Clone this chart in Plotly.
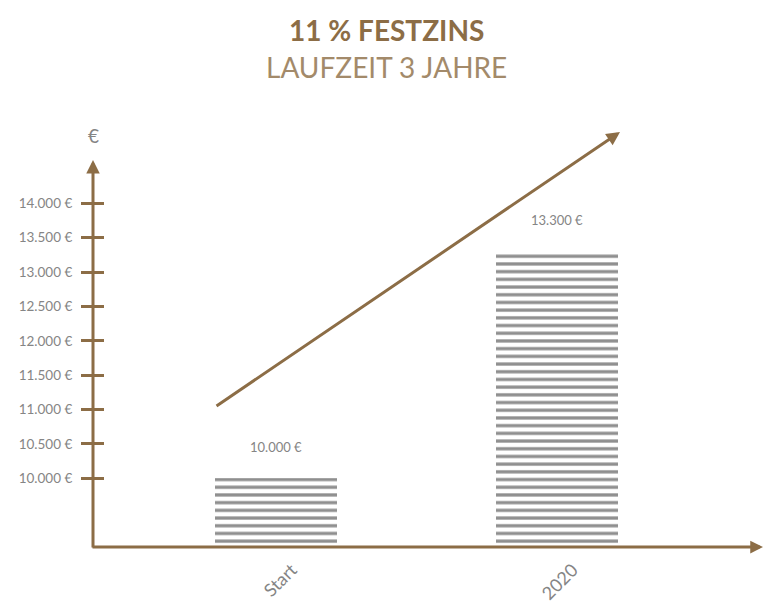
import plotly.graph_objects as go

categories = ["Start", "2020"]
values = [10000, 13300]
value_labels = ["10.000 €", "13.300 €"]
tick_vals = [10000, 10500, 11000, 11500, 12000, 12500, 13000, 13500, 14000]
tick_text = ["10.000 €", "10.500 €", "11.000 €", "11.500 €", "12.000 €",
             "12.500 €", "13.000 €", "13.500 €", "14.000 €"]
title_line1 = "11 % FESTZINS"
title_line2 = "LAUFZEIT 3 JAHRE"

BROWN = "#8c6d46"
TAN = "#a38a6a"
GRAY = "#858585"
STRIPE = "#8f8f8f"
FONT = "Lato"

Y_RANGE = [9000, 14630]
X_RANGE = [-0.6505, 1.734]

fig = go.Figure()
fig.add_trace(go.Bar(
    x=categories, y=values, width=0.433,
    marker=dict(color="white", line=dict(width=0),
                pattern=dict(shape="-", size=7.7, solidity=0.42,
                             fgcolor=STRIPE, bgcolor="white", fillmode="replace")),
    hoverinfo="skip", showlegend=False,
))
# invisible trace to activate the overlay axis for the inner half of the ticks
fig.add_trace(go.Scatter(x=categories, y=values, yaxis="y2", mode="markers",
                         marker=dict(opacity=0), hoverinfo="skip", showlegend=False))

annotations = []
for i, (v, t) in enumerate(zip(values, value_labels)):
    annotations.append(dict(x=i, y=v, xref="x", yref="y", text=t, showarrow=False,
                            yshift=31, font=dict(family=FONT, size=13, color=GRAY)))

TITLE_X = 0.4388
# titles
annotations.append(dict(x=TITLE_X, y=1, xref="paper", yref="paper", yanchor="middle",
                        xanchor="center", yshift=130, text="<b>" + title_line1 + "</b>",
                        showarrow=False, font=dict(family=FONT, size=28, color=BROWN)))
annotations.append(dict(x=TITLE_X, y=1, xref="paper", yref="paper", yanchor="middle",
                        xanchor="center", yshift=93, text=title_line2, showarrow=False,
                        font=dict(family=FONT, size=28, color=TAN)))
# euro symbol above y axis
annotations.append(dict(x=0, y=1, xref="paper", yref="paper", yanchor="middle",
                        xanchor="center", yshift=25, text="€", showarrow=False,
                        font=dict(family=FONT, size=19, color=GRAY)))
# axis arrows
annotations.append(dict(x=0, y=1, xref="paper", yref="paper", text="", showarrow=True,
                        ax=0, ay=389, arrowhead=2, arrowsize=0.9, arrowwidth=3,
                        arrowcolor=BROWN, standoff=0))
annotations.append(dict(x=1, y=0, xref="paper", yref="paper", text="", showarrow=True,
                        ax=-672, ay=0, arrowhead=2, arrowsize=0.85, arrowwidth=3,
                        arrowcolor=BROWN, standoff=0))
# trend arrow
annotations.append(dict(x=0.7866, y=1.0724, xref="paper", yref="paper", text="",
                        showarrow=True, ax=-405, ay=275, arrowhead=2, arrowsize=0.9,
                        arrowwidth=3, arrowcolor=BROWN, standoff=0))

fig.update_layout(
    width=765, height=612,
    margin=dict(l=93, r=2, t=160, b=65, pad=0),
    paper_bgcolor="white", plot_bgcolor="white",
    bargap=0,
    xaxis=dict(type="category", range=X_RANGE, showgrid=False, zeroline=False,
               showline=False, automargin=False,
               ticks="", tickangle=-45, ticklabelshift=16, ticklabelstandoff=8,
               tickfont=dict(family=FONT, size=18, color=GRAY)),
    yaxis=dict(range=Y_RANGE, showgrid=False, zeroline=False, showline=False,
               automargin=False,
               tickvals=tick_vals, ticktext=tick_text, ticks="outside", ticklen=11,
               tickwidth=3, tickcolor=BROWN, ticklabelstandoff=6,
               tickfont=dict(family=FONT, size=13.5, color=GRAY)),
    yaxis2=dict(range=Y_RANGE, overlaying="y", side="left", showgrid=False,
                automargin=False,
                zeroline=False, showline=False, tickvals=tick_vals,
                showticklabels=False, ticks="inside", ticklen=11, tickwidth=3,
                tickcolor=BROWN),
    annotations=annotations,
    font=dict(family=FONT),
)

fig.write_html("out.html", config={"displayModeBar": False},
               post_script="document.body.style.margin='0';document.body.style.overflow='hidden';")
